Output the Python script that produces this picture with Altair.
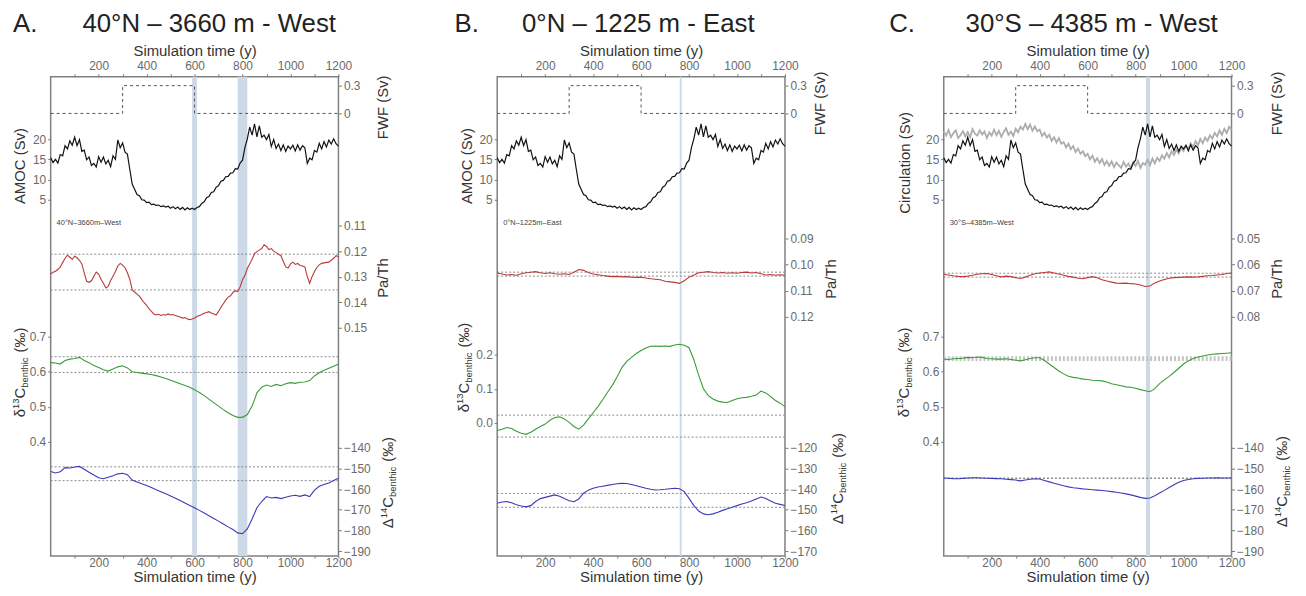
import altair as alt
import pandas as pd

# ---------------- data ----------------
YEARS10 = list(range(0, 1201, 10))
YEARS20 = list(range(0, 1201, 20))
X_TICKS = list(range(100, 1201, 100))

FWF_YEARS = [0, 300, 600, 1200]
FWF_SV = [0.0, 0.3, 0.0, 0.0]

AMOC = [
    15.4, 14.2, 15.0, 14.1, 16.2, 15.9, 18.4, 17.6, 19.6, 18.5,
    20.5, 18.4, 19.9, 17.0, 17.3, 14.9, 15.6, 13.5, 14.0, 13.1,
    15.7, 14.3, 15.6, 13.9, 14.8, 13.2, 15.9, 15.0, 19.8, 17.9,
    19.1, 16.8, 16.3, 12.5, 8.9, 7.6, 6.3, 6.0, 5.0, 4.9,
    4.3, 4.4, 3.8, 3.9, 3.6, 3.7, 3.3, 3.5, 3.2, 3.4,
    2.9, 3.3, 2.8, 3.2, 2.6, 3.1, 2.5, 3.0, 2.6, 2.9,
    2.6, 3.1, 3.3, 4.1, 4.5, 5.5, 5.8, 6.8, 7.0, 8.1,
    8.5, 9.6, 9.8, 10.7, 10.8, 11.6, 11.7, 12.7, 12.6, 14.1,
    14.8, 17.9, 20.1, 23.0, 21.0, 23.8, 20.6, 23.3, 20.5, 21.0,
    19.9, 21.2, 18.2, 19.9, 17.7, 18.8, 17.2, 18.6, 17.0, 18.3,
    17.6, 18.5, 17.1, 18.6, 17.3, 18.4, 17.9, 14.0, 15.3, 14.9,
    17.2, 16.8, 19.0, 17.6, 19.4, 18.1, 19.8, 18.8, 20.1, 18.9,
    18.3,
]

CIRC_30S = [
    21.9, 20.9, 22.3, 20.5, 21.5, 22.2, 20.3, 21.0, 22.0, 20.7,
    21.8, 20.5, 22.5, 21.4, 20.9, 22.2, 21.2, 21.9, 20.3, 21.7,
    20.9, 22.4, 21.0, 22.1, 20.6, 21.8, 22.7, 21.1, 21.9, 20.8,
    22.6, 21.7, 23.1, 22.4, 23.8, 22.5, 23.6, 22.1, 23.2, 22.0,
    22.4, 20.8, 21.6, 20.4, 21.1, 19.6, 20.5, 19.2, 20.3, 18.9,
    19.3, 18.0, 18.9, 17.5, 18.3, 16.8, 17.7, 16.4, 17.0, 15.8,
    16.4, 15.0, 15.9, 14.4, 15.3, 14.1, 15.1, 13.6, 14.6, 13.4,
    14.5, 13.1, 14.2, 13.5, 12.9, 14.4, 13.2, 14.0, 12.8, 14.3,
    13.4, 14.6, 12.9, 14.1, 13.7, 14.9, 13.6, 15.2, 14.0, 15.4,
    14.6, 16.0, 15.2, 16.6, 15.5, 17.0, 16.1, 17.4, 16.5, 17.9,
    17.1, 18.4, 17.6, 19.0, 18.1, 19.5, 18.5, 20.1, 19.0, 20.4,
    19.6, 21.0, 20.2, 21.6, 20.7, 22.2, 21.1, 22.6, 21.5, 23.1,
    22.4,
]

PATH_A = [
    0.1290, 0.1283, 0.1279, 0.1272, 0.1262, 0.1245, 0.1228, 0.1216, 0.1224, 0.1232,
    0.1220, 0.1226, 0.1236, 0.1250, 0.1285, 0.1318, 0.1322, 0.1316, 0.1298, 0.1282,
    0.1290, 0.1310, 0.1326, 0.1344, 0.1338, 0.1315, 0.1298, 0.1280, 0.1258, 0.1248,
    0.1255, 0.1265, 0.1285, 0.1310, 0.1352, 0.1360, 0.1368, 0.1376, 0.1390, 0.1402,
    0.1412, 0.1425, 0.1436, 0.1446, 0.1450, 0.1447, 0.1452, 0.1448, 0.1451, 0.1446,
    0.1450, 0.1448, 0.1452, 0.1455, 0.1458, 0.1462, 0.1460, 0.1466, 0.1468, 0.1466,
    0.1462, 0.1456, 0.1452, 0.1448, 0.1443, 0.1440, 0.1437, 0.1442, 0.1446, 0.1450,
    0.1436, 0.1420, 0.1406, 0.1392, 0.1380, 0.1375, 0.1362, 0.1355, 0.1358, 0.1340,
    0.1312, 0.1296, 0.1268, 0.1250, 0.1232, 0.1210, 0.1202, 0.1196, 0.1190, 0.1175,
    0.1182, 0.1194, 0.1190, 0.1200, 0.1206, 0.1212, 0.1218, 0.1240, 0.1262, 0.1266,
    0.1250, 0.1243, 0.1252, 0.1248, 0.1256, 0.1258, 0.1262, 0.1300, 0.1326, 0.1300,
    0.1280, 0.1264, 0.1254, 0.1248, 0.1246, 0.1244, 0.1243, 0.1236, 0.1228, 0.1218,
    0.1222,
]
D13C_A = [
    0.626, 0.625, 0.622, 0.632, 0.636, 0.638, 0.641, 0.632, 0.626, 0.618,
    0.612, 0.606, 0.602, 0.608, 0.614, 0.617, 0.611, 0.600, 0.598, 0.596,
    0.594, 0.592, 0.589, 0.585, 0.581, 0.576, 0.571, 0.566, 0.561, 0.556,
    0.549, 0.541, 0.532, 0.522, 0.512, 0.502, 0.492, 0.483, 0.475, 0.470,
    0.470, 0.478, 0.502, 0.540, 0.556, 0.562, 0.558, 0.564, 0.560, 0.566,
    0.569, 0.567, 0.570, 0.571, 0.575, 0.588, 0.597, 0.604, 0.610, 0.616,
    0.622,
]
D14C_A = [
    -151.5, -152.2, -151.6, -149.6, -149.8, -149.3, -149.0, -150.4, -151.8, -153.2,
    -154.5, -155.0, -154.3, -153.5, -152.6, -152.3, -153.0, -155.6, -156.5, -157.4,
    -158.2, -159.2, -160.3, -161.3, -162.3, -163.3, -164.4, -165.5, -166.7, -167.9,
    -169.0, -170.3, -171.6, -172.9, -174.2, -175.5, -176.9, -178.3, -179.6, -181.2,
    -181.6, -179.3, -174.5, -169.0, -166.0, -163.6, -164.3, -164.0, -164.6, -163.9,
    -163.3, -163.0, -163.5, -162.8, -163.6, -160.5, -158.6, -157.8, -157.0, -155.8,
    -154.7,
]

PATH_B = [
    0.1032, 0.1036, 0.1040, 0.1038, 0.1041, 0.1035, 0.1031, 0.1029, 0.1027, 0.1031,
    0.1034, 0.1031, 0.1035, 0.1037, 0.1035, 0.1038, 0.1029, 0.1019, 0.1022, 0.1030,
    0.1036, 0.1039, 0.1042, 0.1044, 0.1046, 0.1045, 0.1047, 0.1046, 0.1048, 0.1049,
    0.1048, 0.1051, 0.1054, 0.1056, 0.1058, 0.1064, 0.1066, 0.1068, 0.1072, 0.1062,
    0.1048, 0.1040, 0.1031, 0.1029, 0.1027, 0.1030, 0.1032, 0.1030, 0.1033, 0.1031,
    0.1033, 0.1030, 0.1029, 0.1032, 0.1030, 0.1035, 0.1040, 0.1038, 0.1041, 0.1039,
    0.1041,
]
D13C_B = [
    -0.022, -0.018, -0.013, -0.016, -0.024, -0.030, -0.033, -0.027, -0.018, -0.010,
    -0.003, 0.008, 0.016, 0.018, 0.012, 0.002, -0.010, -0.018, -0.006, 0.012,
    0.030, 0.048, 0.068, 0.090, 0.110, 0.135, 0.162, 0.180, 0.192, 0.203,
    0.212, 0.219, 0.224, 0.225, 0.224, 0.225, 0.224, 0.228, 0.230, 0.227,
    0.220, 0.185, 0.140, 0.100, 0.080, 0.070, 0.064, 0.061, 0.060, 0.066,
    0.071, 0.074, 0.075, 0.078, 0.082, 0.093, 0.088, 0.077, 0.066, 0.058,
    0.048,
]
D14C_B = [
    -146.8, -146.2, -146.0, -146.6, -147.6, -148.2, -148.6, -148.0, -146.0, -144.6,
    -144.0, -143.4, -142.8, -143.5, -144.6, -145.6, -146.1, -144.8, -142.0, -140.5,
    -139.6, -139.0, -138.6, -138.2, -137.8, -137.4, -137.2, -137.3, -137.8, -138.4,
    -139.0, -139.6, -140.1, -140.4, -140.3, -140.1, -139.8, -139.6, -139.8, -141.2,
    -144.5, -148.0, -150.6, -152.0, -152.4, -152.0, -151.2, -150.3, -149.5, -148.8,
    -148.0, -147.2, -146.6, -145.8, -144.8, -143.8, -144.5, -145.8, -146.8, -147.4,
    -147.9,
]

PATH_C = [
    0.0638, 0.0640, 0.0643, 0.0645, 0.0646, 0.0644, 0.0641, 0.0637, 0.0635, 0.0634,
    0.0638, 0.0643, 0.0647, 0.0644, 0.0646, 0.0650, 0.0653, 0.0648, 0.0641, 0.0635,
    0.0632, 0.0630, 0.0628, 0.0632, 0.0636, 0.0641, 0.0645, 0.0648, 0.0652, 0.0654,
    0.0650, 0.0646, 0.0650, 0.0658, 0.0663, 0.0667, 0.0671, 0.0672, 0.0671, 0.0673,
    0.0674, 0.0678, 0.0684, 0.0682, 0.0670, 0.0663, 0.0657, 0.0652, 0.0650, 0.0649,
    0.0648, 0.0647, 0.0648, 0.0647, 0.0645, 0.0643, 0.0642, 0.0640, 0.0638, 0.0634,
    0.0632,
]
D13C_C = [
    0.636, 0.635, 0.637, 0.638, 0.639, 0.641, 0.640, 0.642, 0.641, 0.638,
    0.637, 0.636, 0.636, 0.637, 0.635, 0.633, 0.631, 0.634, 0.638, 0.640,
    0.640, 0.632, 0.622, 0.612, 0.602, 0.594, 0.587, 0.584, 0.582, 0.579,
    0.578, 0.576, 0.575, 0.574, 0.571, 0.566, 0.563, 0.560, 0.557, 0.556,
    0.553, 0.549, 0.546, 0.543, 0.552, 0.566, 0.577, 0.587, 0.598, 0.610,
    0.622, 0.631, 0.638, 0.642, 0.645, 0.648, 0.650, 0.651, 0.652, 0.653,
    0.654,
]
D14C_C = [
    -154.6, -154.7, -154.9, -155.0, -154.8, -154.6, -154.5, -154.5, -154.6, -154.7,
    -154.8, -154.9, -155.0, -155.2, -155.4, -155.6, -156.0, -155.6, -155.2, -155.0,
    -155.1, -155.8, -156.5, -157.2, -157.8, -158.4, -158.9, -159.3, -159.6, -159.9,
    -160.1, -160.3, -160.5, -160.7, -160.9, -161.2, -161.5, -161.9, -162.3, -162.8,
    -163.4, -164.0, -164.5, -164.3, -163.2, -161.9, -160.6, -159.2, -157.9, -156.7,
    -155.8, -155.3, -155.0, -154.8, -154.7, -154.6, -154.6, -154.5, -154.6, -154.6,
    -154.6,
]

REF_PATH_A = [0.1212, 0.1352]
REF_D13C_A = [0.643, 0.598]
REF_D14C_A = [-149.2, -155.9]
REF_PATH_B = [0.1029, 0.1044]
REF_D13C_B = [0.023, -0.041]
REF_D14C_B = [-142.1, -148.8]
REF_PATH_C = [0.0633, 0.0648]
REF_D13C_C = [0.6375]
REF_D14C_C = [-154.7]

BAND_START_A = [590, 780]
BAND_END_A = [610, 820]
BAND_START_B = [761]
BAND_END_B = [769]
BAND_START_C = [843]
BAND_END_C = [860]

# ---------------- layout / style ----------------
FONT = "Liberation Sans"
W, H = 290, 483
TOP, BOTTOM = 75, 558  # absolute pixel rows of the frame (for scale calibration)
BAND_COLOR = "#cdd9e7"
RED, GREEN, BLUE = "#b83a3a", "#3a9b3a", "#3b3bb5"
ONE = pd.DataFrame({"k": [0]})
XSCALE = alt.Scale(domain=[0, 1200], nice=False, zero=False)

CW = {'δ': 0.55, 'Δ': 0.668, '1': 0.556, '3': 0.556, '4': 0.556, 'C': 0.722,
      'b': 0.556, 'e': 0.556, 'n': 0.556, 't': 0.278, 'h': 0.556, 'i': 0.222,
      'c': 0.5, '(': 0.333, ')': 0.333, '‰': 1.0, ' ': 0.278}


def tw(s, size):
    return sum(CW.get(ch, 0.556) for ch in s) * size


def ycal(v1, p1, v2, p2):
    slope = (v2 - v1) / (p2 - p1)
    vt = v1 + (TOP - p1) * slope
    vb = v1 + (BOTTOM - p1) * slope
    return alt.Scale(domain=[min(vt, vb), max(vt, vb)], reverse=bool(vt < vb),
                     nice=False, zero=False)


def yaxis(orient, values, fmt):
    return alt.Axis(orient=orient, values=values, format=fmt, title=None,
                    tickSize=3, labelPadding=2, labelOverlap=False, labelFlush=False)


def series_df(years, values):
    assert len(years) == len(values), (len(years), len(values))
    return pd.DataFrame({"t": years, "v": values})


def series_layer(years, values, refs, scale, axis, color, ref_style):
    y = alt.Y("v:Q", scale=scale, axis=axis)
    line = alt.Chart(series_df(years, values)).mark_line(
        color=color, strokeWidth=1.1).encode(
        x=alt.X("t:Q", scale=XSCALE, axis=None), y=y)
    rule = alt.Chart(pd.DataFrame({"v": refs})).mark_rule(**ref_style).encode(y=y)
    return alt.layer(rule, line)


def text(txt, x, y, size, align="left", baseline="middle", angle=0, color="#222"):
    kw = dict(text=txt, align=align, baseline=baseline, fontSize=size, font=FONT,
              color=color)
    if angle:
        kw["angle"] = angle
    return alt.Chart(ONE).mark_text(**kw).encode(x=alt.value(x), y=alt.value(y))


def vtitle(parts, bx, cy, color="#333"):
    total = sum(tw(t, s) + g for t, s, sh, g in parts)
    y = cy + total / 2
    out = []
    for t, s, sh, g in parts:
        y -= g
        out.append(text(t, bx + sh, y, s, align="left", baseline="alphabetic",
                        angle=270, color=color))
        y -= tw(t, s)
    return out


def iso_title(sym, gap=5):
    return [(sym, 15, 0, 0), ("13" if sym == "δ" else "14", 9.5, -6, 0),
            ("C", 15, 0, 0), ("benthic", 9.5, 3, 0), ("(‰)", 15, 0, gap)]


TOP_AXIS = alt.Axis(orient="top", values=X_TICKS, format="d",
                    labelExpr="datum.value % 200 === 0 ? datum.label : ''",
                    title="Simulation time (y)", tickSize=3, labelPadding=1,
                    titlePadding=1, labelFlush=False, labelOverlap=False)
BOTTOM_AXIS = alt.Axis(orient="bottom", values=X_TICKS, format="d",
                       labelExpr="datum.value % 200 === 0 ? datum.label : ''",
                       title="Simulation time (y)", tickSize=2, labelPadding=0,
                       titlePadding=1, labelFlush=False, labelOverlap=False)

DOT = dict(color="#8a8a8a", strokeDash=[2, 2], strokeWidth=1)

PANELS = [
    dict(letter="A.", letter_x=-38, title="40°N – 3660 m - West", title_x=32,
         small="40°N–3660m–West", circ="AMOC (Sv)", grey=False,
         bs=BAND_START_A, be=BAND_END_A,
         path=(YEARS10, PATH_A, REF_PATH_A, (0.11, 225, 0.15, 328),
               [0.11, 0.12, 0.13, 0.14, 0.15], DOT),
         d13=(YEARS20, D13C_A, REF_D13C_A, (0.7, 337, 0.4, 443),
              [0.4, 0.5, 0.6, 0.7], DOT),
         d14=(YEARS20, D14C_A, REF_D14C_A, (-140, 449, -190, 553),
              [-190, -180, -170, -160, -150, -140], DOT),
         lt=dict(circ=(-26, 95), d13=(-26, 298)),
         rt=dict(fwf=(50, 35), path=(50, 202), d14=(55, 409))),
    dict(letter="B.", letter_x=-43, title="0°N – 1225 m - East", title_x=25,
         small="0°N–1225m–East", circ="AMOC (Sv)", grey=False,
         bs=BAND_START_B, be=BAND_END_B,
         path=(YEARS20, PATH_B, REF_PATH_B, (0.09, 238, 0.12, 317),
               [0.09, 0.10, 0.11, 0.12], DOT),
         d13=(YEARS20, D13C_B, REF_D13C_B, (0.2, 355, 0.0, 424),
              [0.0, 0.1, 0.2], DOT),
         d14=(YEARS20, D14C_B, REF_D14C_B, (-120, 449, -170, 553),
              [-170, -160, -150, -140, -130, -120], DOT),
         lt=dict(circ=(-25, 95), d13=(-28, 293)),
         rt=dict(fwf=(40, 31), path=(51, 203), d14=(58, 405))),
    dict(letter="C.", letter_x=-55, title="30°S – 4385 m - West", title_x=22,
         small="30°S–4385m–West", circ="Circulation (Sv)", grey=True,
         bs=BAND_START_C, be=BAND_END_C,
         path=(YEARS20, PATH_C, REF_PATH_C, (0.05, 238, 0.08, 317),
               [0.05, 0.06, 0.07, 0.08], DOT),
         d13=(YEARS20, D13C_C, REF_D13C_C, (0.7, 337, 0.4, 443),
              [0.4, 0.5, 0.6, 0.7],
              dict(color="#c4c4c4", strokeDash=[2, 2], strokeWidth=5)),
         d14=(YEARS20, D14C_C, REF_D14C_C, (-140, 449, -190, 553),
              [-190, -180, -170, -160, -150, -140],
              dict(color="#8a8a8a", strokeDash=[2, 2], strokeWidth=1.6)),
         lt=dict(circ=(-34, 83), d13=(-35, 298)),
         rt=dict(fwf=(51, 31), path=(51, 203), d14=(56, 408))),
]


def panel(cfg):
    layers = []
    bands = alt.Chart(pd.DataFrame({"s": cfg["bs"], "e": cfg["be"]})).mark_rect(
        color=BAND_COLOR).encode(x=alt.X("s:Q", scale=XSCALE, axis=BOTTOM_AXIS),
                                 x2="e:Q")
    layers.append(bands)

    fwf = alt.Chart(series_df(FWF_YEARS, FWF_SV)).mark_line(
        color="#555", strokeDash=[3, 3], strokeWidth=1, interpolate="step-after"
    ).encode(x=alt.X("t:Q", scale=XSCALE, axis=TOP_AXIS),
             y=alt.Y("v:Q", scale=ycal(0.3, 84, 0.0, 112),
                     axis=yaxis("right", [0, 0.3], "~g")))
    layers.append(fwf)

    ycirc = alt.Y("v:Q", scale=ycal(20, 138, 5, 199),
                  axis=yaxis("left", [5, 10, 15, 20], "d"))
    black = alt.Chart(series_df(YEARS10, AMOC)).mark_line(
        color="#111", strokeWidth=1.2).encode(
        x=alt.X("t:Q", scale=XSCALE, axis=None), y=ycirc)
    if cfg["grey"]:
        grey = alt.Chart(series_df(YEARS10, CIRC_30S)).mark_line(
            color="#adadad", strokeWidth=1.8).encode(
            x=alt.X("t:Q", scale=XSCALE, axis=None), y=ycirc)
        layers.append(alt.layer(grey, black))
    else:
        layers.append(black)

    yrs, vals, refs, cal, ticks, style = cfg["path"]
    layers.append(series_layer(yrs, vals, refs, ycal(*cal),
                               yaxis("right", ticks, ".2f"), RED, style))
    yrs, vals, refs, cal, ticks, style = cfg["d13"]
    layers.append(series_layer(yrs, vals, refs, ycal(*cal),
                               yaxis("left", ticks, ".1f"), GREEN, style))
    yrs, vals, refs, cal, ticks, style = cfg["d14"]
    layers.append(series_layer(yrs, vals, refs, ycal(*cal),
                               yaxis("right", ticks, "d"), BLUE, style))

    # headings
    layers.append(text(cfg["letter"], cfg["letter_x"], -53, 26))
    layers.append(text(cfg["title"], cfg["title_x"], -53, 26))
    layers.append(text(cfg["small"], 6, 147, 7.5, color="#444"))

    # axis titles (vertical)
    bx, cy = cfg["lt"]["circ"]
    layers += vtitle([(cfg["circ"], 15, 0, 0)], bx, cy)
    bx, cy = cfg["lt"]["d13"]
    layers += vtitle(iso_title("δ"), bx, cy)
    bx, cy = cfg["rt"]["fwf"]
    layers += vtitle([("FWF (Sv)", 15, 0, 0)], W + bx, cy)
    bx, cy = cfg["rt"]["path"]
    layers += vtitle([("Pa/Th", 15, 0, 0)], W + bx, cy)
    bx, cy = cfg["rt"]["d14"]
    layers += vtitle(iso_title("Δ"), W + bx, cy)

    return alt.layer(*layers).resolve_scale(y="independent").resolve_axis(
        x="independent", y="independent").properties(width=W, height=H)


chart = alt.hconcat(*[panel(c) for c in PANELS], spacing=160, bounds="flush").properties(
    padding={"left": 2, "top": 0, "right": 5, "bottom": 0}
).configure(font=FONT).configure_view(
    stroke="#808080", strokeWidth=1.5
).configure_axis(
    labelFont=FONT, labelFontSize=12, labelColor="#6a6a6a", tickColor="#777",
    domain=False, grid=False, titleFont=FONT, titleFontSize=15,
    titleFontWeight="normal", titleColor="#333"
)

chart.save("out.html", embed_options={"renderer": "svg", "actions": False})
